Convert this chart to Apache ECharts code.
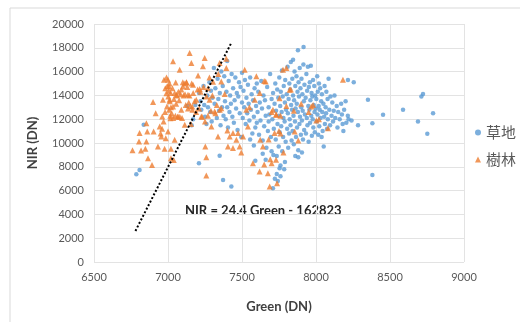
<!DOCTYPE html>
<html>
<head>
<meta charset="utf-8">
<script src="https://cdn.jsdelivr.net/npm/echarts@6/dist/echarts.min.js"></script>
<style>
  html, body { margin: 0; padding: 0; background: #fff; }
  #chart { width: 520px; height: 322px; }
</style>
</head>
<body>
<div id="chart"></div>
<script>
// 草地 (grassland) points: [Green, NIR]
var grassData = [
  [6786, 7380], [6808, 7740], [6836, 11530], [7130, 13100], [7160, 11500], [7170, 12000], [7185, 13200],
  [7209, 8300], [7210, 14200], [7220, 13500], [7225, 12800], [7240, 14800], [7245, 13200], [7250, 12200],
  [7260, 11600], [7265, 14000], [7270, 13000], [7280, 15100], [7285, 12600], [7290, 14400], [7295, 11800],
  [7300, 13800], [7310, 16300], [7315, 13300], [7320, 14600], [7330, 12100], [7335, 15400], [7340, 13700],
  [7345, 12700], [7349, 8920], [7350, 14200], [7355, 11500], [7360, 16000], [7365, 13000], [7370, 14800],
  [7372, 6900], [7375, 12300], [7380, 15600], [7385, 13500], [7390, 12000], [7395, 14300], [7400, 16900],
  [7400, 13000], [7405, 11300], [7410, 15200], [7415, 12600], [7420, 14000], [7425, 13300], [7428, 6340],
  [7430, 15800], [7435, 12200], [7440, 14600], [7445, 11700], [7450, 13600], [7455, 15500], [7460, 12900],
  [7465, 14200], [7470, 11100], [7475, 13900], [7480, 15100], [7485, 12500], [7490, 14700], [7495, 10500],
  [7500, 13400], [7500, 15900], [7505, 12100], [7510, 14400], [7515, 13000], [7520, 15300], [7525, 11600],
  [7530, 13800], [7535, 12500], [7540, 14900], [7545, 13300], [7550, 11900], [7555, 15500], [7555, 10300],
  [7560, 12800], [7565, 14100], [7570, 10800], [7575, 13600], [7580, 12200], [7580, 9800], [7585, 14600],
  [7590, 11300], [7590, 8500], [7595, 13100], [7600, 15000], [7600, 11700], [7605, 12600], [7610, 14300],
  [7615, 10700], [7620, 13400], [7625, 11900], [7630, 15200], [7635, 12900], [7640, 10200], [7640, 9100],
  [7645, 14000], [7650, 11400], [7655, 13600], [7660, 12300], [7660, 8600], [7665, 9600], [7670, 14700],
  [7675, 11000], [7680, 13000], [7680, 11800], [7685, 12400], [7690, 15800], [7695, 10500], [7700, 13700],
  [7700, 9300], [7705, 12000], [7709, 6200], [7710, 14200], [7712, 9000], [7715, 11200], [7720, 13300],
  [7722, 7000], [7725, 15000], [7728, 10300], [7730, 12700], [7735, 8900], [7735, 7400], [7738, 14500],
  [7740, 11600], [7742, 6800], [7745, 13800], [7748, 9700], [7750, 12300], [7752, 15500], [7754, 7880],
  [7755, 10900], [7758, 13100], [7760, 8100], [7760, 7200], [7762, 14300], [7765, 11400], [7768, 12600],
  [7770, 16100], [7772, 9300], [7775, 13900], [7778, 10500], [7780, 12100], [7782, 14800], [7785, 7800],
  [7788, 11800], [7790, 13400], [7790, 8400], [7792, 15300], [7795, 10100], [7798, 12800], [7802, 14100],
  [7805, 11200], [7808, 16400], [7810, 12500], [7812, 9600], [7815, 13700], [7818, 10800], [7820, 15000],
  [7822, 12000], [7825, 14500], [7828, 11500], [7830, 16800], [7832, 13200], [7835, 10200], [7838, 12800],
  [7840, 15400], [7842, 11000], [7845, 14000], [7845, 17000], [7848, 12300], [7850, 9900], [7852, 13600],
  [7855, 16000], [7858, 11800], [7860, 14800], [7860, 8900], [7862, 12900], [7865, 10500], [7868, 15600],
  [7870, 13300], [7872, 11300], [7875, 14300], [7878, 12600], [7878, 17800], [7880, 9400], [7880, 8800],
  [7882, 15100], [7885, 13900], [7888, 11600], [7890, 16300], [7892, 12200], [7895, 14600], [7898, 10700],
  [7900, 13000], [7902, 15400], [7905, 11900], [7905, 9200], [7908, 14100], [7910, 12700], [7912, 10300],
  [7915, 16600], [7916, 18060], [7918, 13500], [7920, 11100], [7922, 14900], [7925, 12400], [7930, 13800],
  [7932, 10800], [7935, 15800], [7938, 12100], [7940, 14400], [7942, 11500], [7945, 16400], [7948, 13100],
  [7950, 10100], [7952, 14700], [7955, 12800], [7958, 15100], [7960, 11700], [7962, 13600], [7965, 16500],
  [7968, 12300], [7970, 14200], [7972, 10600], [7975, 13900], [7978, 12000], [7980, 15300], [7982, 11300],
  [7985, 13200], [7988, 14800], [7990, 12600], [7992, 10900], [7995, 14000], [7998, 12900], [8002, 13700],
  [8005, 11800], [8008, 15600], [8010, 12400], [8012, 14300], [8015, 10700], [8018, 13100], [8020, 15000],
  [8022, 11400], [8025, 12800], [8028, 14600], [8030, 12100], [8035, 13500], [8038, 10500], [8040, 14100],
  [8042, 12600], [8045, 11000], [8050, 13300], [8052, 9700], [8055, 12200], [8058, 14800], [8060, 11600],
  [8065, 13000], [8068, 12500], [8070, 14300], [8075, 11200], [8078, 13700], [8080, 12000], [8085, 15400],
  [8090, 12800], [8095, 11500], [8098, 13900], [8105, 12300], [8110, 13400], [8115, 11800], [8120, 12700],
  [8125, 14000], [8130, 12100], [8140, 13100], [8145, 11300], [8150, 12600], [8160, 12000], [8170, 13300],
  [8175, 12400], [8180, 11600], [8185, 11000], [8190, 12800], [8200, 13500], [8205, 11700], [8215, 12300],
  [8216, 15300], [8220, 12000], [8240, 11900], [8255, 15100], [8284, 11500], [8351, 13630], [8381, 11670],
  [8381, 7320], [8453, 12370], [8588, 12790], [8689, 11810], [8712, 13910], [8723, 14110], [8752, 10770],
  [8791, 12510]
];

// 樹林 (forest) points: [Green, NIR]
var forestData = [
  [6760, 9400], [6804, 10130], [6808, 10830], [6818, 9370], [6847, 9510], [6854, 10130], [6854, 11670],
  [6860, 10970], [6865, 8720], [6892, 8160], [6899, 13440], [6903, 10970], [6917, 12510], [6932, 9700],
  [6944, 11390], [6950, 10800], [6955, 10550], [6960, 11200], [6961, 12230], [6966, 13630], [6970, 11800],
  [6973, 15320], [6977, 9510], [6980, 12600], [6982, 14610], [6985, 10400], [6989, 14190], [6990, 15500],
  [6993, 13070], [6995, 14800], [7000, 15320], [7000, 10970], [7002, 13900], [7005, 14400], [7007, 14750],
  [7008, 12800], [7010, 15000], [7011, 13630], [7012, 13500], [7015, 12300], [7016, 12090], [7018, 14200],
  [7020, 13000], [7020, 9510], [7020, 8720], [7025, 12500], [7030, 14600], [7034, 16860], [7034, 13070],
  [7035, 12100], [7039, 8580], [7040, 13700], [7045, 10270], [7045, 14200], [7050, 12300], [7052, 15090],
  [7055, 13300], [7056, 14050], [7060, 14000], [7065, 12200], [7068, 12230], [7070, 14300], [7075, 13600],
  [7079, 16160], [7080, 12200], [7085, 14100], [7090, 12790], [7090, 14500], [7095, 12100], [7100, 15100],
  [7101, 14750], [7105, 14000], [7110, 15000], [7113, 11530], [7115, 14100], [7120, 13200], [7124, 15090],
  [7125, 15100], [7130, 14700], [7135, 14050], [7135, 12900], [7140, 13400], [7145, 14000], [7146, 17560],
  [7150, 13100], [7155, 11600], [7158, 16720], [7160, 15000], [7164, 13070], [7165, 12800], [7169, 14890],
  [7170, 14200], [7180, 13500], [7190, 12600], [7191, 13630], [7200, 14500], [7203, 15680], [7210, 12900],
  [7214, 14530], [7220, 14300], [7225, 12230], [7230, 12200], [7236, 16440], [7240, 14700], [7248, 17140],
  [7250, 11800], [7252, 9700], [7259, 8810], [7259, 7270], [7260, 13900], [7270, 14610], [7270, 12300],
  [7280, 15500], [7281, 13630], [7290, 12700], [7293, 11390], [7300, 14000], [7304, 15150], [7315, 12650],
  [7320, 12500], [7330, 13200], [7338, 10550], [7340, 15800], [7349, 16720], [7350, 12800], [7360, 15170],
  [7360, 12930], [7383, 14110], [7394, 17080], [7394, 16300], [7401, 11050], [7405, 9700], [7417, 10550],
  [7439, 10830], [7439, 9570], [7462, 10270], [7473, 10830], [7484, 9700], [7495, 9200], [7507, 10550],
  [7518, 16160], [7529, 12790], [7540, 11390], [7550, 13000], [7574, 8300], [7586, 13630], [7597, 15600],
  [7619, 7600], [7620, 14200], [7623, 10270], [7641, 9700], [7650, 15200], [7650, 8200], [7660, 15170],
  [7675, 7460], [7680, 10300], [7687, 6340], [7691, 8640], [7700, 12600], [7700, 8300], [7709, 12790],
  [7720, 10830], [7730, 12400], [7730, 8600], [7732, 12370], [7737, 6620], [7750, 11000], [7754, 13770],
  [7760, 12300], [7760, 10800], [7777, 16160], [7780, 9200], [7800, 13100], [7800, 16300], [7822, 14470],
  [7830, 14500], [7850, 12700], [7856, 10970], [7880, 10200], [7900, 13300], [7950, 12600], [7968, 13070],
  [7980, 13200], [8002, 11890], [8020, 12000], [8081, 11250], [8182, 15320]
];

// regression line NIR = 24.4 Green - 162823
var trendSlope = 24.4;
var trendIntercept = -162823;
var trendX = [6780, 7430];
var trendData = trendX.map(function (x) {
  return [x, trendSlope * x + trendIntercept];
});

var plainNumber = function (v) { return String(v); };

var chart = echarts.init(document.getElementById('chart'));
chart.setOption({
  animation: false,
  textStyle: { fontFamily: 'Lato, "Noto Sans CJK TC", sans-serif' },
  grid: { left: 94, right: 56, top: 24, bottom: 60 },
  legend: {
    orient: 'vertical',
    left: 470,
    top: 120,
    itemWidth: 6,
    itemHeight: 6,
    itemGap: 12,
    data: [
      { name: '草地', icon: 'circle' },
      { name: '樹林', icon: 'triangle' }
    ],
    textStyle: { color: '#595959', fontSize: 15, fontFamily: '"Noto Sans CJK TC", sans-serif' }
  },
  graphic: [
    {
      type: 'rect',
      shape: { x: 10, y: 8, width: 520, height: 330 },
      style: { fill: 'none', stroke: '#d9d9d9', lineWidth: 1 },
      silent: true
    },
    {
      type: 'text',
      left: 185,
      top: 204,
      style: {
        text: 'NIR = 24.4 Green - 162823',
        fill: '#262626',
        font: 'bold 13px Lato, sans-serif'
      }
    }
  ],
  xAxis: {
    type: 'value',
    min: 6500,
    max: 9000,
    interval: 500,
    name: 'Green (DN)',
    nameLocation: 'middle',
    nameGap: 38,
    nameTextStyle: { color: '#404040', fontSize: 13, fontWeight: 'bold' },
    axisLine: { show: false },
    axisTick: { show: false },
    axisLabel: { color: '#595959', fontSize: 11, margin: 10, formatter: plainNumber },
    splitLine: { show: true, lineStyle: { color: '#e3e3e3' } }
  },
  yAxis: {
    type: 'value',
    min: 0,
    max: 20000,
    interval: 2000,
    name: 'NIR (DN)',
    nameLocation: 'middle',
    nameGap: 55,
    nameTextStyle: { color: '#404040', fontSize: 13, fontWeight: 'bold' },
    axisLine: { show: false },
    axisTick: { show: false },
    axisLabel: { color: '#595959', fontSize: 11, margin: 10, formatter: plainNumber },
    splitLine: { show: true, lineStyle: { color: '#e3e3e3' } }
  },
  series: [
    {
      name: '草地',
      type: 'scatter',
      symbol: 'circle',
      symbolSize: 4.5,
      itemStyle: { color: '#5b9bd5' },
      data: grassData,
      z: 2
    },
    {
      name: '樹林',
      type: 'scatter',
      symbol: 'triangle',
      symbolSize: 6,
      itemStyle: { color: '#ed7d31' },
      data: forestData,
      z: 3
    },
    {
      name: 'trend',
      type: 'line',
      data: trendData,
      symbol: 'none',
      lineStyle: { color: '#000', width: 2, type: [2, 2] },
      z: 4
    }
  ]
});
</script>
</body>
</html>
